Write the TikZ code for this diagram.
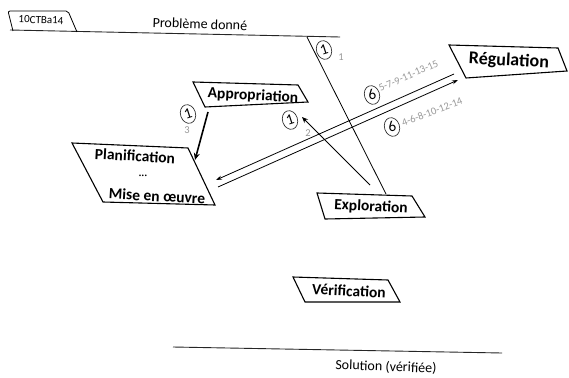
\documentclass[tikz,border=0pt]{standalone}
\usepackage{fontspec}
\setmainfont{Carlito}
\usetikzlibrary{shapes.geometric,arrows.meta}
\tikzset{
  box/.style={draw=black,line width=1.1pt,line join=miter},
  boxtxt/.style={font=\bfseries\fontsize{15.5}{15.5}\selectfont,inner sep=0pt,rotate=-3},
  rule/.style={draw=black!85,line width=0.9pt},
  plain/.style={font=\fontsize{14}{14}\selectfont,inner sep=0pt,rotate=-2},
  num/.style={draw=black!80,ellipse,line width=0.7pt,minimum width=15pt,minimum height=19pt,inner sep=0pt,font=\fontsize{15}{15}\selectfont,rotate=18},
  small/.style={text=black!40,font=\fontsize{10.5}{10.5}\selectfont,inner sep=0pt},
  arr/.style={draw=black,line width=0.9pt,-{Stealth[length=6pt,width=5pt]}},
  thick arr/.style={draw=black,line width=1.6pt,-{Stealth[length=7pt,width=6pt]}},
  dbl/.style={draw=black,line width=0.8pt}
}
\begin{document}
\begin{tikzpicture}[x=1pt,y=-1pt]
\useasboundingbox (0,0) rectangle (569,377);
\fill[white] (0,0) rectangle (569,377);
% top rule and tab
\coordinate (tl) at (10,30);
\coordinate (tr) at (340,37);
\draw[rule] (tl) -- (tr);
\draw[draw=black,line width=0.8pt,rounded corners=2pt] (13,31) -- (8,11) -- (68,11) -- (77,32);
\node[font=\fontsize{11}{11}\selectfont,inner sep=0pt,rotate=-2] (tag) at (41,20) {10CTBa14};
\node[plain] (pb) at (200,24) {Problème donné};
% bottom rule
\coordinate (bl) at (173,347);
\coordinate (br) at (502,353);
\draw[rule] (bl) -- (br);
\node[plain] (sol) at (386,367) {Solution (vérifiée)};
% boxes
\draw[box] (449,45) -- (558,48) -- (567,71) -- (466,78) -- cycle;
\node[boxtxt,font=\bfseries\fontsize{18}{18}\selectfont] (reg) at (509,61) {Régulation};
\draw[box] (193,82) -- (298,85) -- (308,102) -- (205,107) -- cycle;
\node[boxtxt] (app) at (253,96) {Appropriation};
\draw[box] (72,143) -- (188,148) -- (215,205) -- (103,202) -- cycle;
\node[boxtxt] (pla) at (135,156) {Planification};
\node[boxtxt,font=\bfseries\fontsize{11}{11}\selectfont] (dots) at (143,176) {...};
\node[boxtxt] (mis) at (157,196) {Mise en œuvre};
\draw[box] (317,193) -- (412,196) -- (425,217) -- (325,219) -- cycle;
\node[boxtxt] (exp) at (371,207) {Exploration};
\draw[box] (293,277) -- (388,280) -- (400,302) -- (305,302) -- cycle;
\node[boxtxt] (ver) at (349,291) {Vérification};
% connectors
\coordinate (d1) at (307,37);
\coordinate (d2) at (386,194);
\draw[draw=black,line width=0.8pt] (d1) -- (d2);
\coordinate (a1) at (208,112);
\coordinate (a2) at (195,160);
\draw[thick arr] (a1) -- (a2);
\coordinate (e1) at (370,185);
\coordinate (e2) at (302,117);
\draw[arr] (e1) -- (e2);
\coordinate (u1) at (454,74);
\coordinate (u2) at (216,180);
\draw[dbl,-{Stealth[length=6pt,width=4pt]}] (u1) -- (u2);
\coordinate (l1) at (218,187);
\coordinate (l2) at (458,80);
\draw[dbl,-{Stealth[length=6pt,width=4pt]}] (l1) -- (l2);
% number ellipses
\node[num] (n1) at (324,50) {1};
\node[small] (s1) at (341,57) {1};
\node[num] (n3) at (188,114) {1};
\node[small] (s3) at (187,130) {3};
\node[num] (n2) at (290,120) {1};
\node[small] (s2) at (308,133) {2};
\node[num] (n6a) at (372,95) {6};
\node[small,rotate=24,anchor=west] (s6a) at (379,89) {5-7-9-11-13-15};
\node[num] (n6b) at (392,127) {6};
\node[small,rotate=21,anchor=west] (s6b) at (402,123) {4-6-8-10-12-14};
\end{tikzpicture}
\end{document}
